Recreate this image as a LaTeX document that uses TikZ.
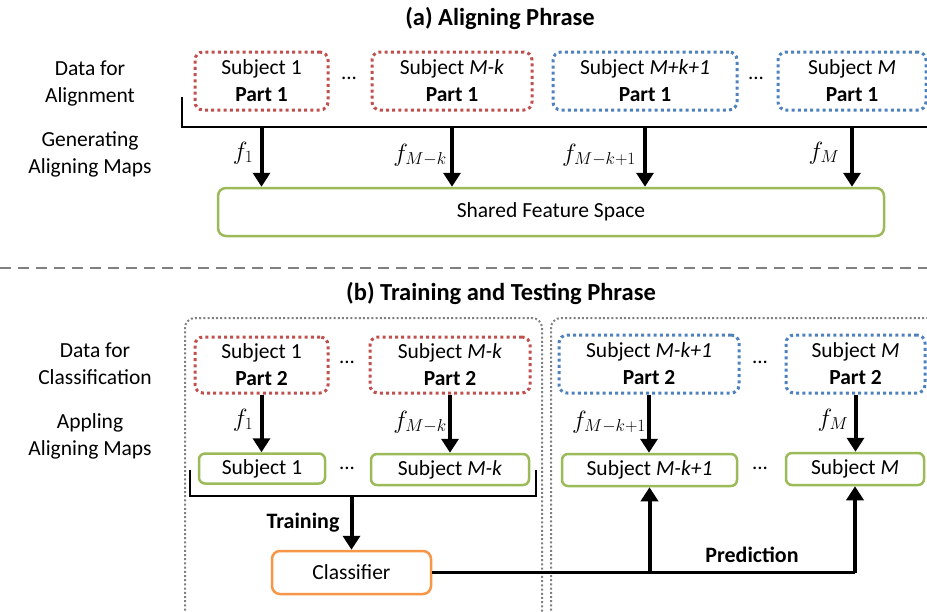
\documentclass[tikz,border=0pt]{standalone}
\usepackage{fontspec}
\setmainfont{Carlito}
\usetikzlibrary{arrows.meta}
\definecolor{ored}{HTML}{C0504D}
\definecolor{oblue}{HTML}{4F81BD}
\definecolor{ogreen}{HTML}{9BBB59}
\definecolor{oorange}{HTML}{F79646}
\definecolor{ogray}{HTML}{808080}
\tikzset{
  txt/.style={font=\fontsize{21.5}{27}\selectfont, align=center, inner sep=0pt},
  ttl/.style={font=\bfseries\fontsize{24.5}{27}\selectfont, inner sep=0pt},
  blab/.style={font=\bfseries\fontsize{22}{24}\selectfont, inner sep=0pt},
  databox/.style={txt, rounded corners=8pt, line width=3pt, dash pattern=on 3pt off 3.2pt},
  redbox/.style={databox, draw=ored},
  bluebox/.style={databox, draw=oblue},
  greenbox/.style={txt, draw=ogreen, line width=2.5pt, rounded corners=6pt},
  orangebox/.style={txt, draw=oorange, line width=2.5pt, rounded corners=8pt},
  graybox/.style={draw=ogray, line width=2pt, dash pattern=on 2pt off 2.2pt, rounded corners=10pt},
  bigarrow/.style={line width=4pt, -{Triangle[length=14pt,width=17pt]}},
  bracket/.style={line width=2.2pt},
  mlab/.style={font=\fontsize{24}{26}\selectfont, inner sep=0pt},
  dots/.style={font=\fontsize{21}{24}\selectfont, inner sep=0pt},
}
\begin{document}
\begin{tikzpicture}[x=1pt,y=-1pt]
\useasboundingbox (0,0) rectangle (927,611);
\clip (0,0) rectangle (927,611);
% ---------- (a) ----------
\node[ttl] (ta) at (500,18) {(a) Aligning Phrase};
\node[txt] (la1) at (90,83) {Data for\\Alignment};
\node[txt] (la2) at (90,154) {Generating\\Aligning Maps};

\node[redbox, minimum width=133pt, minimum height=58pt] (a1) at (261.5,81) {Subject 1\\\textbf{Part 1}};
\node[redbox, minimum width=160pt, minimum height=58pt] (a2) at (452,81) {Subject \textit{M-k}\\\textbf{Part 1}};
\node[bluebox, minimum width=184pt, minimum height=58pt] (a3) at (645,81) {Subject \textit{M+k+1}\\\textbf{Part 1}};
\node[bluebox, minimum width=148pt, minimum height=58pt] (a4) at (852,81) {Subject \textit{M}\\\textbf{Part 1}};
\node[dots] (da1) at (349,78) {...};
\node[dots] (da2) at (756,78) {...};

\coordinate (bs) at (182,97);
\coordinate (bc) at (182,127);
\coordinate (be) at (927,127);
\draw[bracket] (bs) -- (bc) -- (be);

\node[txt, draw=ogreen, line width=2.5pt, rounded corners=8pt, minimum width=666pt, minimum height=48pt] (sfs) at (551,212) {Shared Feature Space};

\draw[bigarrow] (a1.south |- bc) -- (a1.south |- sfs.north);
\draw[bigarrow] (a2.south |- bc) -- (a2.south |- sfs.north);
\draw[bigarrow] (a3.south |- bc) -- (a3.south |- sfs.north);
\draw[bigarrow] (a4.south |- bc) -- (a4.south |- sfs.north);
\node[mlab] (fa1) at (243,153) {$f_1$};
\node[mlab] (fa2) at (420,155) {$f_{M-k}$};
\node[mlab] (fa3) at (599,155) {$f_{M-k+1}$};
\node[mlab] (fa4) at (824,153) {$f_M$};

% separator
\coordinate (s1) at (0,268);
\coordinate (s2) at (927,268);
\draw[ogray, line width=2pt, dash pattern=on 11pt off 7pt] (s1) -- (s2);

% ---------- (b) ----------
\node[ttl] (tb) at (501,293) {(b) Training and Testing Phrase};
\node[txt] (lb1) at (95,364) {Data for\\Classification};
\node[txt] (lb2) at (90,436) {Appling\\Aligning Maps};

\draw[graybox] (185,640) -- (185,318) -- (542,318) -- (542,640);
\draw[graybox] (551,640) -- (551,318) -- (960,318) -- (960,640);

\node[redbox, minimum width=133pt, minimum height=56pt] (b1) at (261.5,365) {Subject 1\\\textbf{Part 2}};
\node[redbox, minimum width=160pt, minimum height=56pt] (b2) at (450,365) {Subject \textit{M-k}\\\textbf{Part 2}};
\node[bluebox, minimum width=180pt, minimum height=58pt] (b3) at (649,364) {Subject \textit{M-k+1}\\\textbf{Part 2}};
\node[bluebox, minimum width=139pt, minimum height=58pt] (b4) at (855.5,364) {Subject \textit{M}\\\textbf{Part 2}};
\node[dots] (db1) at (347,362) {...};
\node[dots] (db2) at (760,362) {...};

\node[greenbox, minimum width=126pt, minimum height=30pt] (g1) at (262,468.5) {Subject 1};
\node[greenbox, minimum width=158pt, minimum height=31pt] (g2) at (450,469.5) {Subject \textit{M-k}};
\node[greenbox, minimum width=175pt, minimum height=32pt] (g3) at (649.5,470) {Subject \textit{M-k+1}};
\node[greenbox, minimum width=138pt, minimum height=32pt] (g4) at (855,469) {Subject \textit{M}};
\node[dots] (dg1) at (347,468) {...};
\node[dots] (dg2) at (760,468) {...};

\draw[bigarrow] (b1) -- (b1.south |- g1.north);
\draw[bigarrow] (b2) -- (b2.south |- g2.north);
\draw[bigarrow] (b3) -- (b3.south |- g3.north);
\draw[bigarrow] (b4) -- (b4.south |- g4.north);
\node[mlab] (fb1) at (243,420) {$f_1$};
\node[mlab] (fb2) at (420,422) {$f_{M-k}$};
\node[mlab] (fb3) at (609,422) {$f_{M-k+1}$};
\node[mlab] (fb4) at (833,420) {$f_M$};

\coordinate (c1) at (190,470);
\coordinate (c2) at (190,496);
\coordinate (c3) at (536,496);
\coordinate (c4) at (536,470);
\draw[bracket] (c1) -- (c2) -- (c3) -- (c4);

\node[orangebox, minimum width=159pt, minimum height=43pt] (cls) at (351.5,572.5) {Classifier};
\draw[bigarrow] (cls.north |- c2) -- (cls.north);
\node[blab] (tr) at (303,523) {Training};

\coordinate (p3) at (g3.south |- cls.east);
\coordinate (p4) at (g4.south |- cls.east);
\draw[bracket] (cls.east) -- (p4);
\draw[bigarrow] (p3) -- (g3.south);
\draw[bigarrow] (p4) -- (g4.south);
\node[blab] (pr) at (752,555) {Prediction};
\end{tikzpicture}
\end{document}
